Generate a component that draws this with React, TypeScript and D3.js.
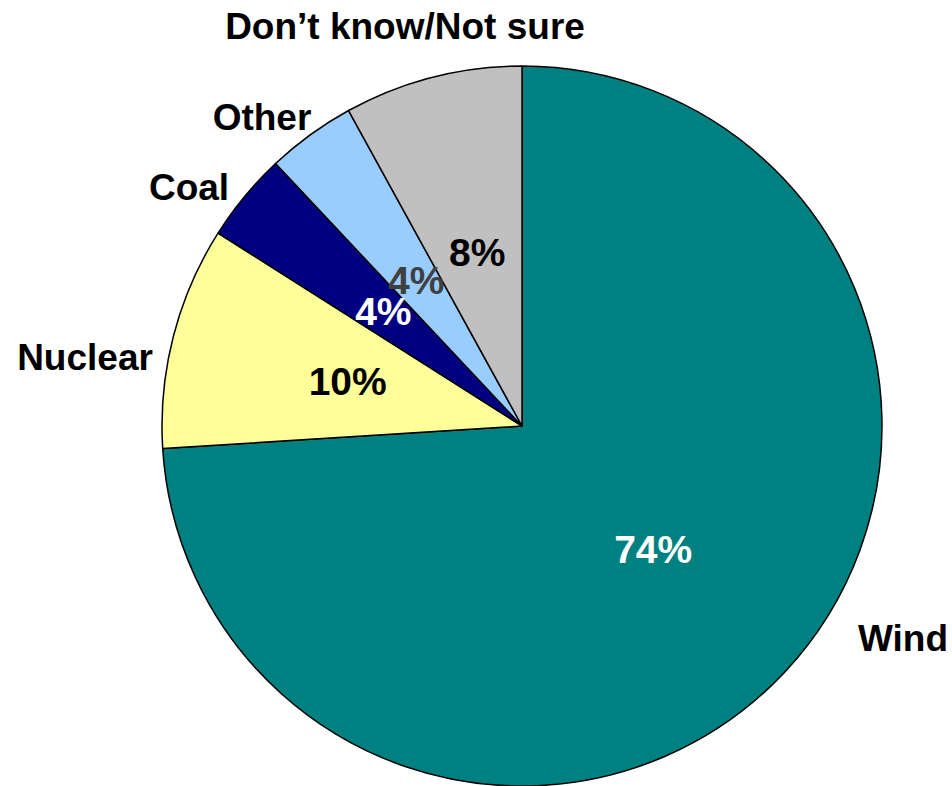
import React, { useEffect, useRef } from "react";
import * as d3 from "d3";

// Slices in clockwise order starting at 12 o'clock
const categories = ["Wind", "Nuclear", "Coal", "Other", "Don\u2019t know/Not sure"];
const values = [74, 10, 4, 4, 8];
const percentLabels = ["74%", "10%", "4%", "4%", "8%"];

const sliceColors = ["#008080", "#FFFF99", "#000080", "#99CCFF", "#C0C0C0"];
const percentColors = ["#ffffff", "#000000", "#ffffff", "#404040", "#000000"];
// outer category label centres, relative to the pie centre
const labelOffsets: [number, number][] = [
  [381, 212],
  [-437, -69],
  [-333, -239],
  [-260, -309],
  [-117, -400],
];

export default function App() {
  const svgRef = useRef<SVGSVGElement | null>(null);

  useEffect(() => {
    if (!svgRef.current) return;
    const svg = d3.select(svgRef.current);
    svg.selectAll("*").remove();

    const cx = 522;
    const cy = 426;
    const radius = 360;
    const font = "'Liberation Sans', Arial, sans-serif";

    const data = categories.map((c, i) => ({
      name: c,
      value: values[i],
      pct: percentLabels[i],
      color: sliceColors[i],
      pctColor: percentColors[i],
      offset: labelOffsets[i],
    }));

    const pie = d3
      .pie<(typeof data)[number]>()
      .value((d) => d.value)
      .sort(null);

    const arc = d3
      .arc<d3.PieArcDatum<(typeof data)[number]>>()
      .innerRadius(0)
      .outerRadius(radius);

    const arcs = pie(data);

    const g = svg.append("g").attr("transform", `translate(${cx},${cy})`);

    g.selectAll("path.slice")
      .data(arcs)
      .enter()
      .append("path")
      .attr("class", "slice")
      .attr("d", arc)
      .attr("fill", (d) => d.data.color)
      .attr("stroke", "#000")
      .attr("stroke-width", 1.5)
      .attr("stroke-linejoin", "round");

    // percentage labels at the slice centroids
    g.selectAll("text.pct")
      .data(arcs)
      .enter()
      .append("text")
      .attr("class", "pct")
      .attr("x", (d) => arc.centroid(d)[0])
      .attr("y", (d) => arc.centroid(d)[1])
      .attr("dy", "0.36em")
      .attr("text-anchor", "middle")
      .attr("font-family", font)
      .attr("font-weight", "bold")
      .attr("font-size", "39px")
      .attr("fill", (d) => d.data.pctColor)
      .text((d) => d.data.pct);

    // category labels outside the pie
    g.selectAll("text.cat")
      .data(arcs)
      .enter()
      .append("text")
      .attr("class", "cat")
      .attr("x", (d) => d.data.offset[0])
      .attr("y", (d) => d.data.offset[1])
      .attr("dy", "0.36em")
      .attr("text-anchor", "middle")
      .attr("font-family", font)
      .attr("font-weight", "bold")
      .attr("font-size", "37px")
      .attr("fill", "#000")
      .text((d) => d.data.name);
  }, []);

  return (
    <svg
      ref={svgRef}
      width={952}
      height={786}
      style={{ position: "fixed", left: 0, top: 0, background: "#fff" }}
    />
  );
}
